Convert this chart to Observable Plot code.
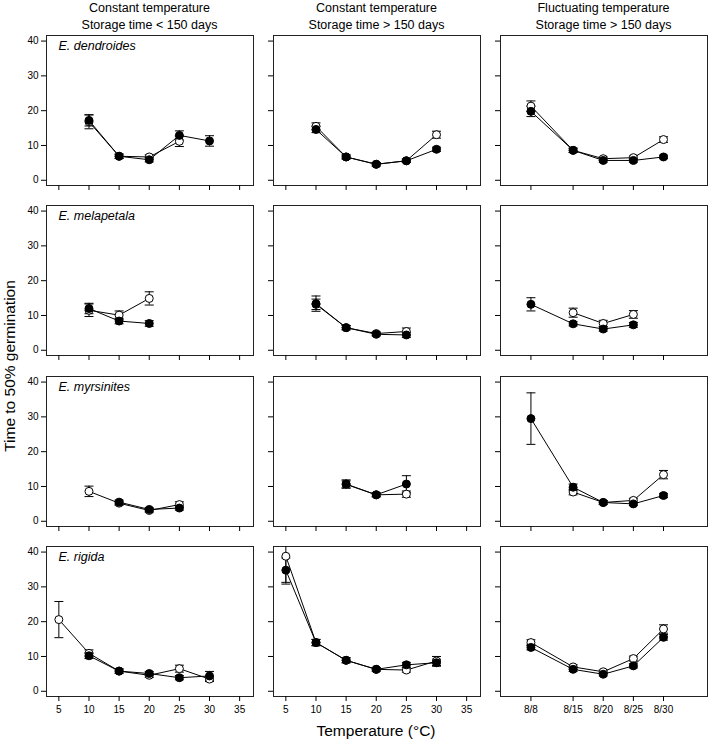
<!DOCTYPE html>
<html><head><meta charset="utf-8">
<script src="https://cdn.jsdelivr.net/npm/d3@7"></script>
<script src="https://cdn.jsdelivr.net/npm/@observablehq/plot@0.6"></script>
<style>
body{margin:0;background:#fff;font-family:"Liberation Sans",Arial,Helvetica,sans-serif;color:#000;}
#chart{position:relative;width:709px;height:739px;overflow:hidden;}
.ct{position:absolute;top:0px;width:260px;text-align:center;font-size:12.5px;line-height:16.5px;}
.panel{position:absolute;}
.ylab{position:absolute;left:10px;top:366px;transform:translate(-50%,-50%) rotate(-90deg);white-space:nowrap;font-size:15.5px;}
.xlab{position:absolute;left:376px;top:731px;transform:translate(-50%,-50%);white-space:nowrap;font-size:15.5px;}
</style></head><body><div id="chart"></div>
<script>
// ---------- data ----------
const species = ["E. dendroides", "E. melapetala", "E. myrsinites", "E. rigida"];
const conditionLine1 = ["Constant temperature", "Constant temperature", "Fluctuating temperature"];
const conditionLine2 = ["Storage time < 150 days", "Storage time > 150 days", "Storage time > 150 days"];
const constTemps = [5, 10, 15, 20, 25, 30];
const constTicks = [5, 10, 15, 20, 25, 30, 35];
const fluctTemps = [8, 15, 20, 25, 30];
const fluctLabels = ["8/8", "8/15", "8/20", "8/25", "8/30"];
const yTicks = [0, 10, 20, 30, 40];

// per species: [const<150, const>150, fluct>150]; values aligned with constTemps / fluctTemps
const dendroidesFilled   = [[null,17.2,6.9,5.9,12.9,11.3],[null,14.6,6.7,4.6,5.6,8.9],[19.8,8.6,5.7,5.7,6.7]];
const dendroidesFilledSE = [[null,1.6,0.6,0.6,1.3,1.5],[null,0.9,0.6,0.5,0.5,0.6],[1.5,0.6,0.5,0.5,0.5]];
const dendroidesOpen     = [[null,16.8,6.9,6.7,11.2,null],[null,15.5,6.7,4.6,5.6,13.1],[21.3,8.6,6.2,6.5,11.7]];
const dendroidesOpenSE   = [[null,2.0,0.6,0.6,1.5,null],[null,1.0,0.5,0.5,0.5,1.0],[1.5,0.6,0.5,0.5,0.8]];

const melapetalaFilled   = [[null,12.0,8.4,7.7,null,null],[null,13.4,6.5,4.6,4.4,null],[13.2,7.6,6.1,7.3,null]];
const melapetalaFilledSE = [[null,1.5,0.8,0.8,null,null],[null,2.2,0.6,0.5,0.7,null],[1.9,0.6,0.6,0.7,null]];
const melapetalaOpen     = [[null,11.5,10.1,14.9,null,null],[null,13.2,6.5,4.8,5.4,null],[null,10.8,7.7,10.3,null]];
const melapetalaOpenSE   = [[null,1.8,1.2,1.9,null,null],[null,1.5,0.6,0.5,1.0,null],[null,1.3,0.9,1.1,null]];

const myrsinitesFilled   = [[null,null,5.5,3.4,3.8,null],[null,null,10.7,7.6,10.7,null],[29.5,9.8,5.4,5.0,7.4]];
const myrsinitesFilledSE = [[null,null,0.6,0.5,0.6,null],[null,null,1.2,0.6,2.4,null],[7.4,0.9,0.5,0.5,0.6]];
const myrsinitesOpen     = [[null,8.6,5.2,3.1,4.8,null],[null,null,10.6,7.6,7.8,null],[null,8.4,5.4,6.0,13.4]];
const myrsinitesOpenSE   = [[null,1.5,0.6,0.5,0.8,null],[null,null,1.0,0.5,0.9,null],[null,0.8,0.5,0.6,1.2]];

const rigidaFilled   = [[null,10.2,5.8,5.1,3.9,4.4],[34.8,14.0,8.9,6.3,7.6,8.2],[12.6,6.3,4.9,7.3,15.5]];
const rigidaFilledSE = [[null,0.8,0.6,0.6,0.6,1.3],[3.5,0.9,0.7,0.5,0.7,1.0],[0.7,0.6,0.5,0.6,0.8]];
const rigidaOpen     = [[20.6,10.9,5.8,4.6,6.5,3.5],[38.8,14.0,8.9,6.3,6.1,8.7],[14.0,7.0,5.6,9.4,17.9]];
const rigidaOpenSE   = [[5.2,1.0,0.6,0.6,1.0,0.7],[8.0,0.9,0.7,0.5,0.6,1.3],[0.8,0.6,0.5,0.7,1.2]];

const filledMeans = [dendroidesFilled, melapetalaFilled, myrsinitesFilled, rigidaFilled];
const filledSEs   = [dendroidesFilledSE, melapetalaFilledSE, myrsinitesFilledSE, rigidaFilledSE];
const openMeans   = [dendroidesOpen, melapetalaOpen, myrsinitesOpen, rigidaOpen];
const openSEs     = [dendroidesOpenSE, melapetalaOpenSE, myrsinitesOpenSE, rigidaOpenSE];

// ---------- layout ----------
const boxLeft = [46, 273, 500];
const boxTop = [35, 205, 376, 546];
const boxW = 207, boxH = 150;
const mL = 20, mT = 5;
const font = "Liberation Sans, Arial, Helvetica, sans-serif";

const capSymbol = {draw(ctx, size) { const w = Math.sqrt(size / Math.PI); ctx.moveTo(-w, 0); ctx.lineTo(w, 0); }};

function rowsFor(means, ses, temps) {
  const out = [];
  means.forEach((m, i) => { if (m != null) out.push({x: temps[i], y: m, lo: m - ses[i], hi: m + ses[i]}); });
  return out;
}

const chart = document.getElementById("chart");

for (let c = 0; c < 3; ++c) {
  const t = document.createElement("div");
  t.className = "ct";
  t.style.left = (boxLeft[c] + boxW / 2 - 130) + "px";
  t.innerHTML = conditionLine1[c] + "<br>" + conditionLine2[c].replace("<", "&lt;").replace(">", "&gt;");
  chart.appendChild(t);
}

for (let r = 0; r < 4; ++r) {
  for (let c = 0; c < 3; ++c) {
    const temps = c === 2 ? fluctTemps : constTemps;
    const filled = rowsFor(filledMeans[r][c], filledSEs[r][c], temps);
    const open = rowsFor(openMeans[r][c], openSEs[r][c], temps);
    const bottomRow = r === 3;
    const mB = bottomRow ? 26 : 8;
    const xTickFormat = !bottomRow ? () => "" : (c === 2 ? d => fluctLabels[fluctTemps.indexOf(d)] : d => String(d));
    const marks = [
      Plot.frame({stroke: "#222", strokeWidth: 1}),
      Plot.axisX({ticks: c === 2 ? fluctTemps : constTicks, tickSize: 5, tickPadding: 4, tickFormat: xTickFormat, label: null}),
      Plot.axisY({ticks: yTicks, tickSize: 5, tickPadding: 3, tickFormat: c === 0 ? d => String(d) : () => "", label: null}),
      Plot.line(open, {x: "x", y: "y", stroke: "black", strokeWidth: 1}),
      Plot.line(filled, {x: "x", y: "y", stroke: "black", strokeWidth: 1}),
      Plot.ruleX(open, {x: "x", y1: "lo", y2: "hi", stroke: "black", strokeWidth: 1, clip: true}),
      Plot.ruleX(filled, {x: "x", y1: "lo", y2: "hi", stroke: "black", strokeWidth: 1, clip: true}),
      Plot.dot(open, {x: "x", y: "lo", symbol: capSymbol, r: 4.5, stroke: "black", fill: "none", strokeWidth: 1, clip: true}),
      Plot.dot(open, {x: "x", y: "hi", symbol: capSymbol, r: 4.5, stroke: "black", fill: "none", strokeWidth: 1, clip: true}),
      Plot.dot(filled, {x: "x", y: "lo", symbol: capSymbol, r: 4.5, stroke: "black", fill: "none", strokeWidth: 1, clip: true}),
      Plot.dot(filled, {x: "x", y: "hi", symbol: capSymbol, r: 4.5, stroke: "black", fill: "none", strokeWidth: 1, clip: true}),
      Plot.dot(open, {x: "x", y: "y", r: 4, fill: "white", stroke: "black", strokeWidth: 1}),
      Plot.dot(filled, {x: "x", y: "y", r: 4, fill: "black", stroke: "black", strokeWidth: 1})
    ];
    if (c === 0) {
      marks.push(Plot.text([species[r]], {frameAnchor: "top-left", dx: 12, dy: 6, fontStyle: "italic", fontSize: 12.5, fill: "black"}));
    }
    const svg = Plot.plot({
      width: mL + boxW + 1,
      height: mT + boxH + mB,
      marginLeft: mL, marginRight: 1, marginTop: mT, marginBottom: mB,
      x: {domain: [2.95, 37.3]},
      y: {domain: [-1.5, 41.6]},
      style: {fontFamily: font, fontSize: "10px", background: "transparent", overflow: "visible", color: "black"},
      marks
    });
    svg.classList.add("panel");
    svg.style.left = (boxLeft[c] - mL) + "px";
    svg.style.top = (boxTop[r] - mT) + "px";
    chart.appendChild(svg);
  }
}

const yl = document.createElement("div");
yl.className = "ylab";
yl.textContent = "Time to 50% germination";
chart.appendChild(yl);
const xl = document.createElement("div");
xl.className = "xlab";
xl.textContent = "Temperature (°C)";
chart.appendChild(xl);
</script></body></html>
